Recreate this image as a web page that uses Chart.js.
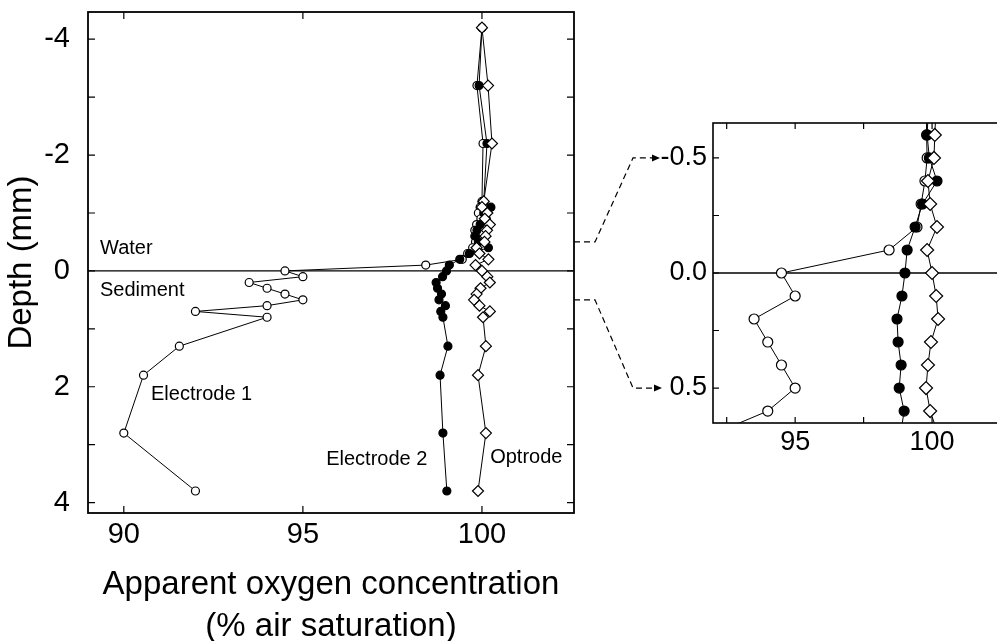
<!DOCTYPE html>
<html>
<head>
<meta charset="utf-8">
<script src="https://cdn.jsdelivr.net/npm/chart.js@4"></script>
<style>
  html, body { margin: 0; padding: 0; background: #fff; overflow: hidden; }
  body { width: 997px; height: 641px; position: relative; }
  canvas { position: absolute; top: 0; }
  #mainChart { left: 0; }
  #zoomChart { left: 620px; }
  #arrows { left: 0; pointer-events: none; }
</style>
</head>
<body>
<canvas id="mainChart" width="600" height="641"></canvas>
<canvas id="zoomChart" width="400" height="641"></canvas>
<canvas id="arrows" width="997" height="641"></canvas>
<script>
// Depth profile (mm), shared by all three sensors
const depths = [-4.2, -3.2, -2.2, -1.2, -1.1, -1.0, -0.9, -0.8, -0.7, -0.6, -0.5, -0.4, -0.3, -0.2, -0.1,
  0, 0.1, 0.2, 0.3, 0.4, 0.5, 0.6, 0.7, 0.8, 1.3, 1.8, 2.8, 3.8];

// Apparent oxygen concentration (% air saturation)
const electrode1 = [100.0, 99.86, 100.03, 100.0, 99.95, 99.9, 99.97, 99.85, 99.8, 99.8, 99.82, 99.74, 99.6, 99.45, 98.43,
  94.5, 95.0, 93.5, 94.0, 94.5, 95.0, 94.0, 92.0, 94.0, 91.55, 90.55, 90.0, 92.0];
const electrode2 = [100.0, 99.92, 100.14, 100.05, 100.25, 100.05, 100.12, 99.95, 99.86, 99.82, 99.9, 100.18, 99.65, 99.38, 99.09,
  99.01, 98.9, 98.72, 98.76, 98.87, 98.8, 98.98, 98.85, 98.91, 99.05, 98.83, 98.91, 99.02];
const optrode = [100.0, 100.17, 100.28, 100.05, 100.0, 100.15, 100.08, 100.22, 100.14, 100.1, 100.07, 99.85, 99.93, 100.18, 99.82,
  100.0, 100.15, 100.22, 99.96, 99.85, 99.78, 99.93, 100.22, 100.03, 100.11, 99.89, 100.11, 99.89];

// Tick values
const mainYTicks = [-4, -2, 0, 2, 4];
const mainYMinor = [-3, -1, 1, 3];
const mainXTicks = [90, 95, 100];
const zoomYTicks = [-0.5, 0, 0.5];
const zoomYMinor = [-0.25, 0.25];
const zoomXTicks = [95, 100];
const zoomXMinor = [92.5, 97.5, 102.5];

const FONT = "'Liberation Sans', Arial, Helvetica, sans-serif";

function toPoints(values) {
  return depths.map((d, i) => ({ x: values[i], y: d }));
}

function makeDatasets(r) {
  return [
    { label: 'Optrode', data: toPoints(optrode), pointStyle: 'rectRot', pointRadius: r + 1.5, pointBackgroundColor: '#fff' },
    { label: 'Electrode 2', data: toPoints(electrode2), pointStyle: 'circle', pointRadius: r, pointBackgroundColor: '#000' },
    { label: 'Electrode 1', data: toPoints(electrode1), pointStyle: 'circle', pointRadius: r, pointBackgroundColor: '#fff' }
  ].map(ds => Object.assign({
    showLine: true,
    borderColor: '#000',
    borderWidth: 1,
    pointBorderColor: '#000',
    pointBorderWidth: 1.2,
    clip: 0
  }, ds));
}

// pin the scale box so the chart area lands where the figure has it
function fixBox(size, key) {
  return s => {
    s[key] = size;
    s.paddingTop = 0;
    s.paddingBottom = 0;
    s.paddingLeft = 0;
    s.paddingRight = 0;
  };
}

// frame, inward ticks, zero line and text labels
const framePlugin = {
  id: 'frame',
  beforeDatasetsDraw(chart, args, opts) {
    const { ctx, chartArea: a, scales: { y } } = chart;
    const y0 = y.getPixelForValue(0);
    ctx.save();
    ctx.strokeStyle = '#000';
    ctx.lineWidth = 1.3;
    ctx.beginPath();
    ctx.moveTo(a.left, y0);
    ctx.lineTo(a.right, y0);
    ctx.stroke();
    ctx.restore();
  },
  afterDraw(chart, args, opts) {
    const { ctx, chartArea: a, scales: { x, y } } = chart;
    ctx.save();
    ctx.strokeStyle = '#000';
    ctx.lineWidth = opts.frameWidth;
    ctx.strokeRect(a.left, a.top, a.right - a.left, a.bottom - a.top);
    ctx.lineWidth = 1.2;
    const len = opts.tickLen;
    ctx.beginPath();
    opts.yTicks.forEach(v => {
      const p = y.getPixelForValue(v);
      ctx.moveTo(a.left, p); ctx.lineTo(a.left + len, p);
      ctx.moveTo(a.right, p); ctx.lineTo(a.right - len, p);
    });
    opts.xTicks.forEach(v => {
      const p = x.getPixelForValue(v);
      ctx.moveTo(p, a.bottom); ctx.lineTo(p, a.bottom - len);
      ctx.moveTo(p, a.top); ctx.lineTo(p, a.top + len);
    });
    ctx.stroke();
    ctx.fillStyle = '#000';
    ctx.font = '20px ' + FONT;
    ctx.textAlign = 'left';
    ctx.textBaseline = 'middle';
    (opts.labels || []).forEach(l => {
      ctx.fillText(l.text, x.getPixelForValue(l.x), y.getPixelForValue(l.y));
    });
    ctx.restore();
  }
};

const mainChart = new Chart(document.getElementById('mainChart'), {
  type: 'scatter',
  data: { datasets: makeDatasets(4) },
  plugins: [framePlugin],
  options: {
    responsive: false,
    animation: false,
    devicePixelRatio: 1,
    layout: { padding: { left: 0, top: 12, right: 26, bottom: 0 } },
    plugins: {
      legend: { display: false },
      tooltip: { enabled: false },
      frame: {
        frameWidth: 1.8,
        tickLen: 7,
        yTicks: mainYTicks.concat(mainYMinor),
        xTicks: mainXTicks,
        labels: [
          { text: 'Water', x: 89.335, y: -0.38 },
          { text: 'Sediment', x: 89.335, y: 0.345 },
          { text: 'Electrode 1', x: 90.76, y: 2.14 },
          { text: 'Electrode 2', x: 95.65, y: 3.25 },
          { text: 'Optrode', x: 100.23, y: 3.23 }
        ]
      }
    },
    scales: {
      x: {
        type: 'linear',
        min: 89,
        max: 102.57,
        grid: { display: false, drawTicks: false },
        border: { display: false },
        afterBuildTicks: s => { s.ticks = mainXTicks.map(v => ({ value: v })); },
        afterFit: fixBox(128, 'height'),
        ticks: { font: { family: FONT, size: 29 }, color: '#000', padding: 5, maxRotation: 0, callback: v => String(v) },
        title: {
          display: true,
          text: ['Apparent oxygen concentration', '(% air saturation)'],
          font: { family: FONT, size: 33, lineHeight: 1.27 },
          color: '#000',
          padding: { top: 0, bottom: -7 }
        }
      },
      y: {
        type: 'linear',
        reverse: true,
        min: -4.47,
        max: 4.18,
        grid: { display: false, drawTicks: false },
        border: { display: false },
        afterBuildTicks: s => { s.ticks = mainYTicks.map(v => ({ value: v })); },
        afterFit: fixBox(88, 'width'),
        ticks: { font: { family: FONT, size: 29 }, color: '#000', padding: 18, callback: v => String(v) },
        title: {
          display: true,
          text: 'Depth (mm)',
          font: { family: FONT, size: 33 },
          color: '#000',
          padding: { top: 2, bottom: 0 }
        }
      }
    }
  }
});

const zoomChart = new Chart(document.getElementById('zoomChart'), {
  type: 'scatter',
  data: { datasets: makeDatasets(5) },
  plugins: [framePlugin],
  options: {
    responsive: false,
    animation: false,
    devicePixelRatio: 1,
    layout: { padding: { left: 0, top: 123, right: 14, bottom: 0 } },
    plugins: {
      legend: { display: false },
      tooltip: { enabled: false },
      frame: {
        frameWidth: 1.6,
        tickLen: 6,
        yTicks: zoomYTicks.concat(zoomYMinor),
        xTicks: zoomXTicks.concat(zoomXMinor),
        labels: []
      }
    },
    scales: {
      x: {
        type: 'linear',
        min: 92,
        max: 102.7,
        grid: { display: false, drawTicks: false },
        border: { display: false },
        afterBuildTicks: s => { s.ticks = zoomXTicks.map(v => ({ value: v })); },
        afterFit: fixBox(641 - 423, 'height'),
        ticks: { font: { family: FONT, size: 27 }, color: '#000', padding: 3, maxRotation: 0, callback: v => String(v) }
      },
      y: {
        type: 'linear',
        reverse: true,
        min: -0.652,
        max: 0.652,
        grid: { display: false, drawTicks: false },
        border: { display: false },
        afterBuildTicks: s => { s.ticks = zoomYTicks.map(v => ({ value: v })); },
        afterFit: fixBox(93, 'width'),
        ticks: { font: { family: FONT, size: 27 }, color: '#000', padding: 6, callback: v => Number(v).toFixed(1) }
      }
    }
  }
});

// Dashed connectors from the main panel to the zoomed panel
function drawConnectors() {
  const ctx = document.getElementById('arrows').getContext('2d');
  const zoomLeft = 620;
  const xStart = mainChart.chartArea.right;
  [-0.5, 0.5].forEach(v => {
    const y1 = mainChart.scales.y.getPixelForValue(v);
    const y2 = zoomChart.scales.y.getPixelForValue(v);
    const tip = zoomLeft + zoomChart.chartArea.left - (v < 0 ? 53 : 51);
    ctx.save();
    ctx.strokeStyle = '#000';
    ctx.lineWidth = 1.2;
    ctx.setLineDash([6, 4]);
    ctx.beginPath();
    ctx.moveTo(xStart, y1);
    ctx.lineTo(xStart + 21, y1);
    ctx.lineTo(633, y2);
    ctx.lineTo(tip - 6, y2);
    ctx.stroke();
    ctx.setLineDash([]);
    ctx.fillStyle = '#000';
    ctx.beginPath();
    ctx.moveTo(tip, y2);
    ctx.lineTo(tip - 8, y2 - 3.5);
    ctx.lineTo(tip - 8, y2 + 3.5);
    ctx.closePath();
    ctx.fill();
    ctx.restore();
  });
}
drawConnectors();
</script>
</body>
</html>
